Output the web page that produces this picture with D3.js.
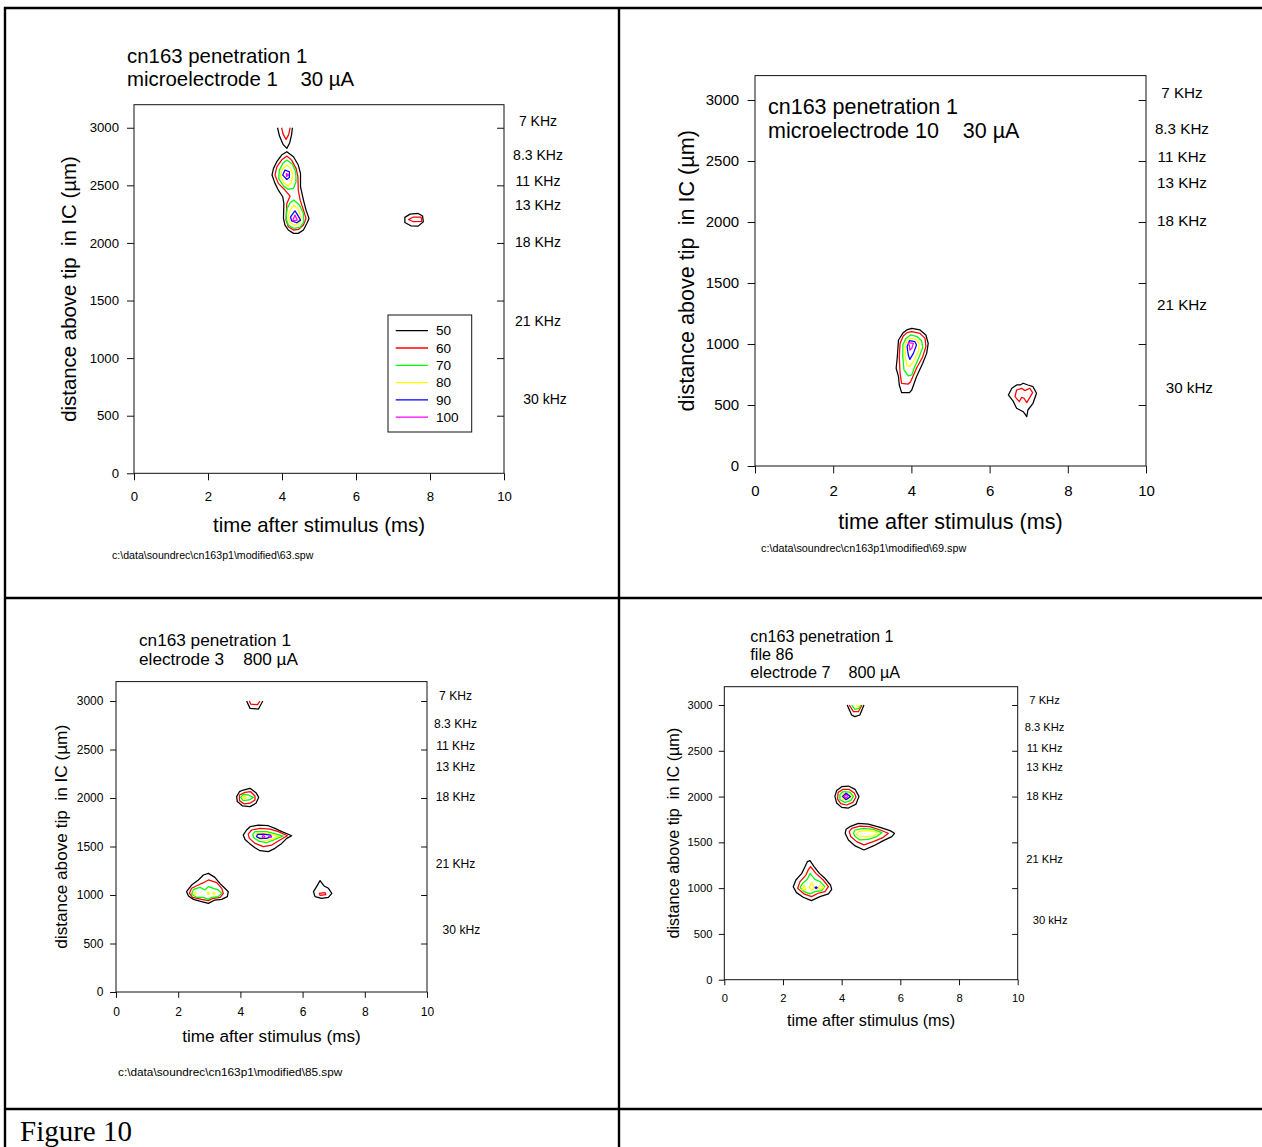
<!DOCTYPE html>
<html><head><meta charset="utf-8">
<script src="https://cdn.jsdelivr.net/npm/d3@7"></script>
<style>
body{margin:0;background:#fff}
svg{display:block}
text{font-family:"Liberation Sans",Arial,sans-serif;fill:#000}
</style>
</head><body>
<svg id="fig" width="1262" height="1147"></svg>
<script>
// ---------------- data ----------------
const levels = [50, 60, 70, 80, 90, 100];
const levelColors = ["#000000", "#ff0000", "#00ff00", "#ffff00", "#0000ff", "#ff00ff"];
const xTicks = [0, 2, 4, 6, 8, 10];
const yTicks = [0, 500, 1000, 1500, 2000, 2500, 3000];
const rightTicks = [500, 1000, 1500, 2000, 2500, 3000];
const freqLabels = ["7 KHz", "8.3 KHz", "11 KHz", "13 KHz", "18 KHz", "21 KHz", "30 kHz"];
const freqDepths = [3058, 2763, 2535, 2325, 2008, 1320, 646];
const xTitle = "time after stimulus (ms)";
const yTitle = "distance above tip  in IC (\u00b5m)";
const figureLabel = "Figure 10";

const title63 = ["cn163 penetration 1", "microelectrode 1\u00a0\u00a0\u00a0 30 \u00b5A"];
const title69 = ["cn163 penetration 1", "microelectrode 10\u00a0\u00a0\u00a0 30 \u00b5A"];
const title85 = ["cn163 penetration 1", "electrode 3\u00a0\u00a0\u00a0 800 \u00b5A"];
const title86 = ["cn163 penetration 1", "file 86", "electrode 7\u00a0\u00a0\u00a0 800 \u00b5A"];
const foot63 = "c:\\data\\soundrec\\cn163p1\\modified\\63.spw";
const foot69 = "c:\\data\\soundrec\\cn163p1\\modified\\69.spw";
const foot85 = "c:\\data\\soundrec\\cn163p1\\modified\\85.spw";

// contour rings: [time ms, depth µm]
const contours63 = [
  {lv:50, open:true, pts:[[3.88,3000],[3.93,2930],[4.03,2855],[4.13,2821],[4.21,2870],[4.26,2940],[4.28,3000]]},
  {lv:60, open:true, pts:[[3.99,3000],[4.03,2945],[4.11,2899],[4.18,2940],[4.22,3000]]},
  {lv:50, pts:[[4.13,2792],[4.31,2748],[4.44,2676],[4.50,2604],[4.50,2488],[4.58,2372],[4.65,2285],[4.73,2213],[4.67,2169],[4.58,2112],[4.44,2083],[4.31,2083],[4.17,2112],[4.08,2155],[4.04,2213],[4.05,2343],[4.02,2401],[3.90,2459],[3.81,2517],[3.73,2589],[3.77,2647],[3.86,2705],[3.99,2763]]},
  {lv:60, pts:[[4.13,2754],[4.26,2719],[4.38,2647],[4.43,2575],[4.44,2459],[4.49,2372],[4.58,2285],[4.65,2213],[4.58,2155],[4.44,2117],[4.31,2112],[4.17,2140],[4.11,2198],[4.13,2343],[4.22,2407],[4.08,2459],[3.90,2517],[3.81,2589],[3.86,2661],[3.99,2719]]},
  {lv:70, pts:[[4.13,2719],[4.28,2685],[4.37,2618],[4.38,2531],[4.31,2473],[4.17,2465],[4.04,2494],[3.91,2560],[3.93,2632],[4.02,2690]]},
  {lv:80, pts:[[4.13,2676],[4.24,2647],[4.29,2589],[4.25,2522],[4.16,2494],[4.05,2522],[3.96,2580],[4.00,2638]]},
  {lv:90, pts:[[4.08,2632],[4.20,2618],[4.20,2569],[4.13,2551],[4.02,2589]]},
  {lv:100, pts:[[4.12,2602],[4.18,2590],[4.12,2578]]},
  {lv:70, pts:[[4.32,2372],[4.47,2329],[4.58,2256],[4.59,2184],[4.49,2135],[4.32,2126],[4.17,2155],[4.11,2213],[4.14,2300],[4.22,2349]]},
  {lv:80, pts:[[4.32,2329],[4.44,2291],[4.51,2227],[4.49,2175],[4.35,2155],[4.22,2175],[4.17,2233],[4.23,2291]]},
  {lv:90, pts:[[4.35,2279],[4.44,2233],[4.50,2198],[4.40,2175],[4.26,2192],[4.23,2227]]},
  {lv:100, pts:[[4.35,2242],[4.41,2198],[4.29,2192]]},
  {lv:50, pts:[[7.46,2250],[7.68,2256],[7.80,2233],[7.82,2184],[7.68,2146],[7.48,2149],[7.32,2178],[7.32,2222]]},
  {lv:60, pts:[[7.42,2203],[7.55,2225],[7.76,2225],[7.78,2186],[7.55,2184]]}
];

const contours69 = [
  {lv:50, pts:[[4.01,1128],[4.22,1115],[4.37,1074],[4.43,1005],[4.39,923],[4.29,842],[4.13,732],[4.01,623],[3.95,601],[3.75,601],[3.69,664],[3.67,732],[3.61,801],[3.64,896],[3.67,1033],[3.79,1093],[3.88,1115]]},
  {lv:60, pts:[[4.01,1101],[4.22,1087],[4.35,1046],[4.37,978],[4.29,896],[4.13,801],[3.98,691],[3.92,672],[3.75,678],[3.71,760],[3.69,896],[3.71,1005],[3.79,1065],[3.89,1093]]},
  {lv:70, pts:[[3.98,1074],[4.15,1060],[4.26,1027],[4.29,973],[4.20,896],[4.07,801],[4.01,746],[3.92,738],[3.81,787],[3.78,896],[3.78,992],[3.86,1046]]},
  {lv:80, pts:[[3.96,1046],[4.12,1038],[4.20,1005],[4.18,937],[4.05,855],[3.96,814],[3.88,828],[3.84,896],[3.84,978],[3.88,1027]]},
  {lv:90, pts:[[3.95,1027],[4.09,1019],[4.13,992],[4.05,923],[3.96,874],[3.92,910],[3.89,978]]},
  {lv:100, pts:[[3.92,1011],[4.05,1005],[4.01,964],[3.96,951],[3.95,983]]},
  {lv:50, pts:[[6.78,664],[6.86,678],[6.98,664],[7.11,650],[7.20,596],[7.11,514],[6.98,459],[6.95,405],[6.86,445],[6.69,473],[6.61,527],[6.48,582],[6.57,637],[6.69,664]]},
  {lv:60, pts:[[6.69,623],[6.82,637],[6.90,618],[7.03,637],[7.10,601],[7.03,563],[6.95,519],[6.88,555],[6.82,563],[6.76,527],[6.65,568]]}
];

const contours85 = [
  {lv:50, open:true, pts:[[4.20,3000],[4.31,2924],[4.58,2917],[4.72,3000]]},
  {lv:60, open:true, pts:[[4.29,3000],[4.33,2969],[4.55,2962],[4.63,3000]]},
  {lv:50, pts:[[4.09,2082],[4.31,2100],[4.50,2055],[4.59,2007],[4.50,1946],[4.31,1911],[4.07,1918],[3.90,1963],[3.88,2014],[3.97,2065]]},
  {lv:60, pts:[[4.15,2058],[4.33,2065],[4.47,2021],[4.47,1980],[4.31,1946],[4.12,1939],[3.97,1973],[3.97,2031]]},
  {lv:70, pts:[[4.09,2038],[4.25,2031],[4.42,2007],[4.29,1980],[4.09,1973],[4.01,2007]]},
  {lv:80, pts:[[4.13,2021],[4.18,2007],[4.13,1990],[4.07,2007]]},
  {lv:50, pts:[[4.31,1704],[4.58,1721],[4.90,1714],[5.11,1687],[5.33,1653],[5.65,1611],[5.49,1584],[5.33,1532],[5.11,1481],[4.90,1447],[4.63,1457],[4.47,1488],[4.29,1532],[4.15,1573],[4.09,1618],[4.20,1670]]},
  {lv:60, pts:[[4.36,1670],[4.63,1687],[4.95,1680],[5.22,1653],[5.51,1611],[5.27,1567],[5.01,1515],[4.74,1498],[4.47,1532],[4.29,1584],[4.25,1628]]},
  {lv:70, pts:[[4.47,1653],[4.84,1653],[5.16,1628],[5.38,1608],[5.11,1573],[4.84,1539],[4.58,1556],[4.42,1594],[4.40,1628]]},
  {lv:80, pts:[[4.52,1635],[4.84,1635],[5.11,1618],[5.22,1601],[5.00,1573],[4.79,1560],[4.58,1584],[4.50,1608]]},
  {lv:90, pts:[[4.55,1625],[4.74,1628],[4.97,1618],[5.00,1601],[4.84,1584],[4.63,1584],[4.52,1601]]},
  {lv:100, pts:[[4.74,1618],[4.79,1601],[4.74,1588],[4.70,1601]]},
  {lv:100, pts:[[4.95,1612],[4.99,1601],[4.95,1592],[4.91,1601]]},
  {lv:50, pts:[[2.97,1223],[3.18,1182],[3.34,1120],[3.50,1069],[3.61,1034],[3.58,983],[3.40,955],[3.18,948],[2.97,914],[2.75,932],[2.49,955],[2.33,990],[2.27,1034],[2.43,1103],[2.65,1155],[2.81,1206]]},
  {lv:60, pts:[[2.97,1155],[3.24,1127],[3.40,1069],[3.45,1017],[3.35,976],[3.13,966],[2.97,942],[2.75,955],[2.46,976],[2.36,1017],[2.43,1069],[2.65,1103],[2.81,1127]]},
  {lv:70, pts:[[2.49,1058],[2.70,1079],[2.86,1052],[2.97,1086],[3.13,1069],[3.29,1052],[3.40,1017],[3.29,983],[3.08,976],[2.97,955],[2.81,976],[2.59,976],[2.43,1007]]},
  {lv:80, pts:[[2.50,1017],[2.54,1030],[2.58,1017],[2.54,1004]]},
  {lv:80, pts:[[2.93,1017],[2.97,1030],[3.01,1017],[2.97,1004]]},
  {lv:80, pts:[[3.11,1017],[3.15,1030],[3.19,1017],[3.15,1004]]},
  {lv:50, pts:[[6.56,1148],[6.69,1093],[6.83,1069],[6.94,1017],[6.83,976],[6.61,966],[6.40,983],[6.35,1034],[6.45,1086]]},
  {lv:60, pts:[[6.54,1017],[6.72,1024],[6.75,1003],[6.56,996]]}
];

const contours86 = [
  {lv:50, open:true, pts:[[4.19,3000],[4.34,2891],[4.45,2873],[4.62,2891],[4.76,3000]]},
  {lv:60, open:true, pts:[[4.26,3000],[4.40,2927],[4.57,2927],[4.69,3000]]},
  {lv:70, open:true, pts:[[4.34,3000],[4.45,2953],[4.60,2964],[4.65,3000]]},
  {lv:80, open:true, pts:[[4.49,3000],[4.56,2975],[4.60,3000]]},
  {lv:50, pts:[[4.00,2108],[4.23,2115],[4.46,2078],[4.59,2002],[4.49,1918],[4.23,1875],[4.00,1882],[3.83,1929],[3.77,2002],[3.83,2067]]},
  {lv:60, pts:[[4.04,2078],[4.26,2078],[4.43,2038],[4.49,1995],[4.38,1937],[4.17,1908],[3.97,1922],[3.86,1973],[3.88,2046]]},
  {lv:70, pts:[[4.04,2053],[4.28,2049],[4.40,2002],[4.31,1955],[4.11,1937],[3.94,1966],[3.94,2024]]},
  {lv:80, pts:[[4.08,2035],[4.26,2027],[4.34,2002],[4.23,1973],[4.06,1966],[4.01,2002]]},
  {lv:90, pts:[[4.03,2002],[4.15,2036],[4.30,2002],[4.15,1966]]},
  {lv:100, pts:[[4.09,2002],[4.15,2022],[4.21,2002],[4.15,1982]]},
  {lv:50, pts:[[4.28,1671],[4.57,1707],[4.91,1700],[5.31,1664],[5.65,1628],[5.80,1599],[5.71,1563],[5.42,1519],[5.08,1461],[4.76,1417],[4.46,1461],[4.23,1526],[4.12,1599],[4.15,1642]]},
  {lv:60, pts:[[4.34,1653],[4.62,1678],[4.96,1671],[5.31,1635],[5.59,1599],[5.42,1555],[5.08,1508],[4.76,1472],[4.51,1508],[4.31,1563],[4.26,1617]]},
  {lv:70, pts:[[4.46,1635],[4.74,1653],[5.08,1642],[5.37,1606],[5.19,1563],[4.91,1533],[4.62,1526],[4.46,1563],[4.40,1599]]},
  {lv:80, pts:[[4.57,1617],[4.85,1628],[5.14,1617],[5.25,1599],[5.08,1570],[4.79,1563],[4.57,1570],[4.51,1591]]},
  {lv:50, pts:[[2.92,1300],[3.06,1234],[3.24,1161],[3.43,1107],[3.62,1034],[3.66,987],[3.55,937],[3.26,907],[2.97,863],[2.69,900],[2.46,951],[2.35,1016],[2.44,1089],[2.64,1161],[2.75,1234],[2.83,1289]]},
  {lv:60, pts:[[2.94,1234],[3.12,1161],[3.37,1089],[3.55,1016],[3.43,962],[3.20,944],[2.97,907],[2.72,937],[2.50,998],[2.58,1071],[2.78,1143],[2.87,1205]]},
  {lv:70, pts:[[2.92,1161],[3.09,1096],[3.26,1071],[3.43,1016],[3.32,973],[3.09,962],[2.92,937],[2.72,962],[2.58,1009],[2.69,1060],[2.83,1096]]},
  {lv:80, pts:[[2.72,1031],[2.79,984],[2.65,984]]},
  {lv:80, pts:[[2.98,1063],[3.06,1009],[2.98,973],[2.90,1009]]},
  {lv:80, pts:[[3.26,1031],[3.40,1009],[3.28,984],[3.20,1002]]},
  {lv:90, pts:[[3.13,1014],[3.17,1005],[3.13,996],[3.09,1005]]}
];

// ---------------- layout ----------------
const panels = [
  {contours:contours63, title:title63, foot:foot63, left:134, top:104.7, w:370, h:368.6, k:1,
   fTick:13.2, fKhz:14, fTitle:20.4, fAxis:20.4, fFoot:10.6, titleX:-7, titleY:[-49,-26], footX:-22, footY:82, legend:true},
  {contours:contours69, title:title69, foot:foot69, left:755, top:75.6, w:391, h:390.4, k:1.057,
   fTick:15, fKhz:15.2, fTitle:21.5, fAxis:21.6, fFoot:10.8, titleX:6, titleY:[30.4,54.4], footX:6, footY:82},
  {contours:contours85, title:title85, foot:foot85, left:116, top:681.6, w:311, h:310.4, k:0.84,
   fTick:12, fKhz:12.1, fTitle:17.2, fAxis:17.2, fFoot:11.8, titleX:23, titleY:[-41.6,-22.6], footX:2, footY:80},
  {contours:contours86, title:title86, foot:null, left:724.3, top:686.7, w:293.4, h:293, k:0.79,
   fTick:11.2, fKhz:11.2, fTitle:16.2, fAxis:16.2, titleX:26, titleY:[-50,-32,-14]}
];
panels[1].titleX = 13;

const color = d3.scaleOrdinal().domain(levels).range(levelColors);
const svg = d3.select("#fig");

// table grid
const tbl = svg.append("g").attr("stroke", "#000").attr("stroke-width", 2.4);
tbl.append("line").attr("x1", 4).attr("x2", 1262).attr("y1", 8).attr("y2", 8);
tbl.append("line").attr("x1", 5).attr("x2", 5).attr("y1", 7).attr("y2", 1147);
tbl.append("line").attr("x1", 619).attr("x2", 619).attr("y1", 7).attr("y2", 1147);
tbl.append("line").attr("x1", 4).attr("x2", 1262).attr("y1", 598).attr("y2", 598);
tbl.append("line").attr("x1", 4).attr("x2", 1262).attr("y1", 1109).attr("y2", 1109);

svg.append("text").attr("x", 20).attr("y", 1141)
  .style("font-family", "'Liberation Serif','Times New Roman',serif")
  .style("font-size", "29px").text(figureLabel);

function drawPanel(p) {
  const g = svg.append("g");
  const k = p.k;
  const right = p.left + p.w, bottom = p.top + p.h;
  const x = d3.scaleLinear().domain([0, 10]).range([p.left, right]);
  const y = d3.scaleLinear().domain([0, 3200]).range([bottom, p.top]);
  const line = d3.line().x(d => x(d[0])).y(d => y(d[1]));

  // contours
  g.append("g").selectAll("path").data(p.contours).join("path")
    .attr("d", c => line(c.pts) + (c.open ? "" : "Z"))
    .attr("fill", "none")
    .attr("stroke", c => color(c.lv))
    .attr("stroke-width", 1.25)
    .attr("stroke-linejoin", "round");

  // frame
  g.append("rect").attr("x", p.left).attr("y", p.top).attr("width", p.w).attr("height", p.h)
    .attr("fill", "none").attr("stroke", "#111").attr("stroke-width", 1);

  const tl = 7 * k;
  const ax = g.append("g").attr("transform", `translate(0,${bottom})`)
    .call(d3.axisBottom(x).tickValues(xTicks).tickSize(tl).tickSizeOuter(0).tickPadding(11 * k).tickFormat(d3.format("d")));
  const ay = g.append("g").attr("transform", `translate(${p.left},0)`)
    .call(d3.axisLeft(y).tickValues(yTicks).tickSize(tl).tickSizeOuter(0).tickPadding(8 * k).tickFormat(d3.format("d")));
  const ar = g.append("g").attr("transform", `translate(${right},0)`)
    .call(d3.axisLeft(y).tickValues(rightTicks).tickSize(-tl).tickSizeOuter(0).tickFormat(""));
  ar.selectAll(".tick line").attr("x2", -tl);
  [ax, ay, ar].forEach(a => {
    a.select(".domain").remove();
    a.selectAll(".tick line").attr("stroke", "#111");
    a.selectAll("text").style("font-size", p.fTick + "px").style("font-family", "'Liberation Sans',Arial,sans-serif").attr("fill", "#000");
  });

  // frequency labels
  g.append("g").selectAll("text").data(freqLabels).join("text")
    .attr("x", (d, i) => right + 34 * k + (i === freqLabels.length - 1 ? 7 * k : 0))
    .attr("y", (d, i) => y(freqDepths[i]))
    .attr("dy", "0.35em").attr("text-anchor", "middle")
    .style("font-size", p.fKhz + "px").text(d => d);

  // axis titles
  g.append("text").attr("x", (p.left + right) / 2).attr("y", bottom + 52 * k).attr("dy", "0.35em")
    .attr("text-anchor", "middle").style("font-size", p.fAxis + "px").text(xTitle);
  g.append("text").attr("transform", `translate(${p.left - 65 * k},${(p.top + bottom) / 2}) rotate(-90)`)
    .attr("dy", "0.35em").attr("text-anchor", "middle").style("font-size", p.fAxis + "px")
    .attr("xml:space", "preserve").style("white-space", "pre").text(yTitle);

  // title block
  g.append("g").selectAll("text").data(p.title).join("text")
    .attr("x", p.left + p.titleX).attr("y", (d, i) => p.top + p.titleY[i]).attr("dy", "0.35em")
    .style("font-size", p.fTitle + "px").text(d => d);

  if (p.foot) {
    g.append("text").attr("x", p.left + p.footX).attr("y", bottom + p.footY).attr("dy", "0.35em")
      .style("font-size", p.fFoot + "px").text(p.foot);
  }

  if (p.legend) {
    const lx = p.left + 254 * k, ly = p.top + 210.3 * k;
    const lg = g.append("g");
    lg.append("rect").attr("x", lx).attr("y", ly).attr("width", 83.7 * k).attr("height", 117 * k)
      .attr("fill", "#fff").attr("stroke", "#111").attr("stroke-width", 1);
    const rows = lg.selectAll("g").data(levels).join("g")
      .attr("transform", (d, i) => `translate(0,${ly + 15.7 * k + i * 17.3 * k})`);
    rows.append("line").attr("x1", lx + 7.7 * k).attr("x2", lx + 40 * k)
      .attr("stroke", d => color(d)).attr("stroke-width", 1.3);
    rows.append("text").attr("x", lx + 48 * k).attr("dy", "0.35em").style("font-size", "13.6px").text(d => d);
  }
}

panels.forEach(drawPanel);
</script>
</body></html>
